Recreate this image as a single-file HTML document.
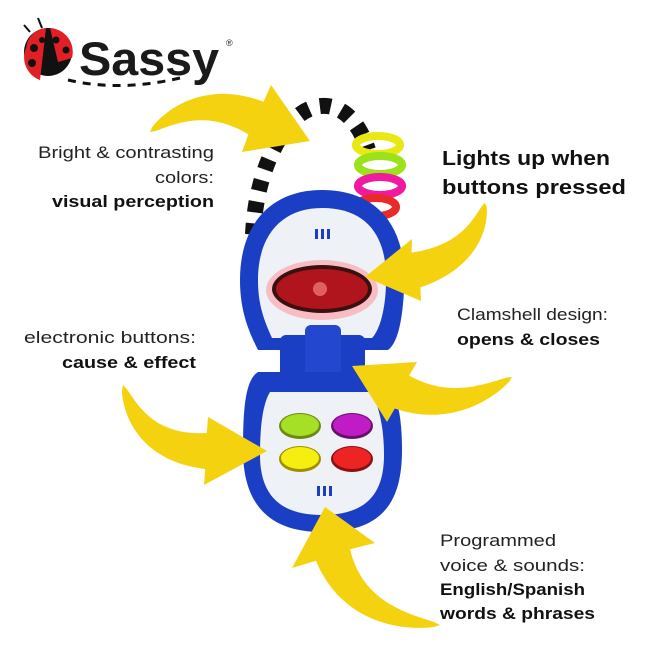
<!DOCTYPE html>
<html><head><meta charset="utf-8"><style>
html,body{margin:0;padding:0;background:#fff;width:650px;height:650px;overflow:hidden}
svg{display:block}
text{font-family:"Liberation Sans",sans-serif;fill:#222}
.b{font-weight:bold;fill:#111}
</style></head><body>
<svg id="s" width="650" height="650" viewBox="0 0 650 650">
<!-- logo -->
<g>
<line x1="42" y1="28" x2="38" y2="18" stroke="#111" stroke-width="2"/>
<line x1="30" y1="32" x2="24" y2="25" stroke="#111" stroke-width="2"/>
<circle cx="48" cy="52" r="24" fill="#111"/>
<path d="M26 48 A22 22 0 0 1 46 28 L40 80 A24 24 0 0 1 26 48Z" fill="#e02025"/>
<path d="M50 28 A24 24 0 0 1 72 58 L58 62Z" fill="#e02025"/>
<circle cx="34" cy="48" r="4" fill="#111"/><circle cx="32" cy="63" r="4" fill="#111"/><circle cx="42" cy="40" r="3" fill="#111"/>
<circle cx="56" cy="40" r="3.5" fill="#111"/><circle cx="66" cy="50" r="3.5" fill="#111"/>
<text x="79" y="75" class="b" style="font-size:47px;fill:#1a1a1a" textLength="140" lengthAdjust="spacingAndGlyphs">Sassy</text>
<text x="226" y="46" style="font-size:9px">®</text>
<path d="M68 80 Q120 92 180 78" stroke="#111" stroke-width="3" fill="none" stroke-dasharray="8 7"/>
</g>
<!-- teether ring -->
<path d="M258 300 C248 250 250 180 285 130 C310 95 350 95 368 150" stroke="#fff" stroke-width="18" fill="none"/>
<path d="M258 300 C248 250 250 180 285 130 C310 95 350 95 368 150" stroke="#111" stroke-width="16" fill="none" stroke-dasharray="11 11"/>
<g fill="none" stroke-width="8">
<ellipse cx="378" cy="145" rx="22" ry="9" stroke="#e8e812"/>
<ellipse cx="380" cy="165" rx="22" ry="9" stroke="#9be21a"/>
<ellipse cx="380" cy="186" rx="22" ry="9" stroke="#f01aa0"/>
<ellipse cx="376" cy="207" rx="20" ry="9" stroke="#ea2a28"/>
</g>
<!-- top shell -->
<path d="M322 190 C380 190 408 230 404 290 C402 330 395 345 388 350 L258 350 C248 330 240 310 240 280 C240 225 270 190 322 190Z" fill="#1b3fc4"/>
<path d="M322 208 C370 208 388 240 386 285 C385 315 378 332 372 338 L272 338 C264 320 258 305 258 280 C258 235 282 208 322 208Z" fill="#eef1f6"/>
<ellipse cx="322" cy="290" rx="56" ry="30" fill="#ff8a90" opacity=".5"/>
<ellipse cx="322" cy="289" rx="50" ry="24" fill="#3a1010"/>
<ellipse cx="322" cy="289" rx="46" ry="20" fill="#b0141c"/>
<circle cx="320" cy="289" r="7" fill="#e06060"/>
<g fill="#1b3fc4"><rect x="315" y="229" width="3" height="10"/><rect x="321" y="229" width="3" height="10"/><rect x="327" y="229" width="3" height="10"/></g>
<!-- hinge -->
<rect x="280" y="335" width="85" height="55" rx="6" fill="#1b3fc4"/>
<rect x="305" y="325" width="36" height="50" rx="6" fill="#2447d0"/>
<rect x="300" y="372" width="46" height="10" fill="#dfe4ee"/>
<!-- bottom shell -->
<path d="M258 372 C245 380 243 410 243 450 C243 500 265 532 322 532 C380 532 402 505 402 450 C402 410 395 385 380 372 Z" fill="#1b3fc4"/>
<path d="M270 392 L372 392 C380 410 384 430 384 455 C384 495 365 515 322 515 C280 515 260 495 260 455 C260 430 262 405 270 392Z" fill="#eef1f6"/>
<ellipse cx="300" cy="426" rx="21" ry="13" fill="#6c8a10"/><ellipse cx="300" cy="425" rx="19" ry="11" fill="#a6e026"/>
<ellipse cx="352" cy="426" rx="21" ry="13" fill="#6a106a"/><ellipse cx="352" cy="425" rx="19" ry="11" fill="#c01cc6"/>
<ellipse cx="300" cy="459" rx="21" ry="13" fill="#a09000"/><ellipse cx="300" cy="458" rx="19" ry="11" fill="#f6ee10"/>
<ellipse cx="352" cy="459" rx="21" ry="13" fill="#8a1010"/><ellipse cx="352" cy="458" rx="19" ry="11" fill="#ee2424"/>
<g fill="#1b3fc4"><rect x="317" y="486" width="3" height="10"/><rect x="323" y="486" width="3" height="10"/><rect x="329" y="486" width="3" height="10"/></g>
<g id="arrows" fill="#f5d210"></g>
<!-- text -->
<g style="font-size:17px">
<text x="38" y="158" textLength="176" lengthAdjust="spacingAndGlyphs">Bright &amp; contrasting</text>
<text x="155" y="183" textLength="59" lengthAdjust="spacingAndGlyphs">colors:</text>
<text x="52" y="207" class="b" textLength="162" lengthAdjust="spacingAndGlyphs">visual perception</text>
<text x="442" y="165" class="b" style="font-size:20px" textLength="168" lengthAdjust="spacingAndGlyphs">Lights up when</text>
<text x="442" y="194" class="b" style="font-size:20px" textLength="184" lengthAdjust="spacingAndGlyphs">buttons pressed</text>
<text x="457" y="320" textLength="151" lengthAdjust="spacingAndGlyphs">Clamshell design:</text>
<text x="457" y="345" class="b" textLength="143" lengthAdjust="spacingAndGlyphs">opens &amp; closes</text>
<text x="24" y="343" textLength="172" lengthAdjust="spacingAndGlyphs">electronic buttons:</text>
<text x="62" y="368" class="b" textLength="134" lengthAdjust="spacingAndGlyphs">cause &amp; effect</text>
<text x="440" y="546" textLength="116" lengthAdjust="spacingAndGlyphs">Programmed</text>
<text x="440" y="571" textLength="145" lengthAdjust="spacingAndGlyphs">voice &amp; sounds:</text>
<text x="440" y="595" class="b" textLength="145" lengthAdjust="spacingAndGlyphs">English/Spanish</text>
<text x="440" y="619" class="b" textLength="155" lengthAdjust="spacingAndGlyphs">words &amp; phrases</text>
</g>
</svg>
<script>
var A=[[[150,132],[200,92],[256,118],[310,141],[271,85],[242,152]],
[[485,203],[475,255],[416,270],[365,277],[412,239],[421,301]],
[[512,377],[455,415],[402,392],[352,366],[417,362],[387,422]],
[[123,385],[140,448],[206,451],[267,451],[208,417],[204,485]],
[[440,625],[355,620],[333,555],[325,507],[292,568],[375,543]]];
var g=document.getElementById('arrows'),ns='http://www.w3.org/2000/svg';
A.forEach(function(a){var T=a[0],C=a[1],N=a[2],P=a[3],W1=a[4],W2=a[5];
var L=[],R=[],n=30;
for(var i=0;i<=n;i++){var t=i/n,u=1-t;
var x=u*u*T[0]+2*u*t*C[0]+t*t*N[0],y=u*u*T[1]+2*u*t*C[1]+t*t*N[1];
var dx=2*u*(C[0]-T[0])+2*t*(N[0]-C[0]),dy=2*u*(C[1]-T[1])+2*t*(N[1]-C[1]);
var l=Math.hypot(dx,dy),w=18*Math.pow(t,0.6);
var nx=-dy/l*w,ny=dx/l*w;L.push([x+nx,y+ny]);R.push([x-nx,y-ny]);}
var ln=L[n],d1=Math.hypot(W1[0]-ln[0],W1[1]-ln[1]),d2=Math.hypot(W2[0]-ln[0],W2[1]-ln[1]);
var wl=d1<d2?W1:W2,wr=d1<d2?W2:W1;
var pts=L.concat([wl,P,wr]).concat(R.reverse());
var p=document.createElementNS(ns,'polygon');
p.setAttribute('points',pts.map(function(q){return q[0].toFixed(1)+','+q[1].toFixed(1)}).join(' '));
g.appendChild(p);});
</script>
</body></html>
